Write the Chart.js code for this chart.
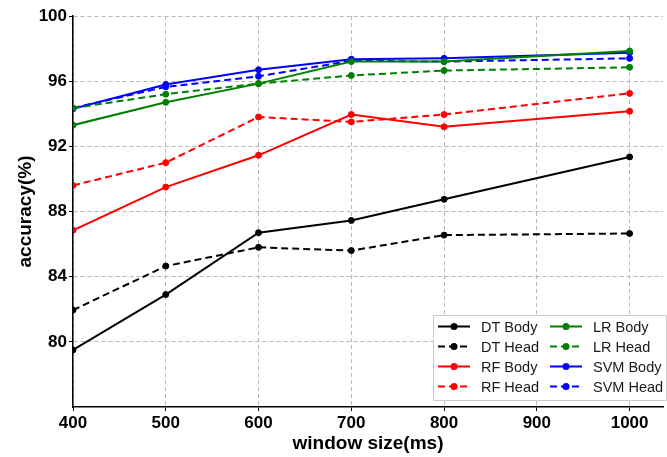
<!DOCTYPE html>
<html>
<head>
<meta charset="utf-8">
<script src="https://cdn.jsdelivr.net/npm/chart.js@4"></script>
<style>
  body { margin: 0; background: #fff; }
  canvas { display: block; }
</style>
</head>
<body>
<canvas id="accChart" width="667" height="457"></canvas>
<script>
// window sizes (ms)
var windowSizes = [400, 500, 600, 700, 800, 1000];

// accuracy (%) per model
var dtBody  = [79.5, 82.9, 86.7, 87.45, 88.75, 91.35];
var dtHead  = [81.95, 84.65, 85.8, 85.6, 86.55, 86.65];
var rfBody  = [86.85, 89.5, 91.45, 93.95, 93.2, 94.15];
var rfHead  = [89.6, 91.0, 93.8, 93.5, 93.95, 95.25];
var lrBody  = [93.3, 94.7, 95.85, 97.2, 97.2, 97.85];
var lrHead  = [94.35, 95.2, 95.85, 96.35, 96.65, 96.85];
var svmBody = [94.3, 95.8, 96.7, 97.35, 97.4, 97.75];
var svmHead = [94.35, 95.65, 96.3, 97.25, 97.2, 97.4];

var xTicks = [400, 500, 600, 700, 800, 900, 1000];
var yTicks = [80, 84, 88, 92, 96, 100];

var DASH = [7, 4];

function makeSeries(label, values, color, dashed) {
    return {
        label: label,
        data: windowSizes.map(function (x, i) { return { x: x, y: values[i] }; }),
        borderColor: color,
        backgroundColor: color,
        pointBackgroundColor: color,
        pointBorderColor: color,
        borderWidth: 2,
        borderDash: dashed ? DASH : [],
        pointRadius: 3,
        pointBorderWidth: 1,
        pointHoverRadius: 3,
        tension: 0
    };
}

var datasets = [
    makeSeries('DT Body', dtBody, '#000000', false),
    makeSeries('DT Head', dtHead, '#000000', true),
    makeSeries('RF Body', rfBody, '#ff0000', false),
    makeSeries('RF Head', rfHead, '#ff0000', true),
    makeSeries('LR Body', lrBody, '#008000', false),
    makeSeries('LR Head', lrHead, '#008000', true),
    makeSeries('SVM Body', svmBody, '#0000ff', false),
    makeSeries('SVM Head', svmHead, '#0000ff', true)
];

// legend box inside the plot, bottom right, two columns filled top-down
var boxLegend = {
    id: 'boxLegend',
    afterDraw: function (chart) {
        var ctx = chart.ctx;
        var area = chart.chartArea;
        var bx = chart.width - 234, by = area.bottom - 92;
        ctx.save();
        ctx.fillStyle = '#ffffff';
        ctx.strokeStyle = '#cccccc';
        ctx.lineWidth = 1;
        ctx.beginPath();
        ctx.rect(bx + 0.5, by + 0.5, 233, 85);
        ctx.fill();
        ctx.stroke();

        ctx.font = '14.5px "Liberation Sans", Arial, sans-serif';
        ctx.textBaseline = 'middle';
        chart.data.datasets.forEach(function (ds, i) {
            var col = Math.floor(i / 4), row = i % 4;
            var lx = bx + 5 + col * 112;
            var ly = by + 11.5 + row * 20;
            ctx.strokeStyle = ds.borderColor;
            ctx.lineWidth = 2;
            ctx.setLineDash(ds.borderDash);
            ctx.beginPath();
            ctx.moveTo(lx, ly);
            ctx.lineTo(lx + 32, ly);
            ctx.stroke();
            ctx.setLineDash([]);
            ctx.fillStyle = ds.borderColor;
            ctx.beginPath();
            ctx.arc(lx + 16, ly, 3.5, 0, Math.PI * 2);
            ctx.fill();
            ctx.fillStyle = '#1a1a1a';
            ctx.fillText(ds.label, lx + 43, ly + 1);
        });
        ctx.restore();
    }
};

var tickFont = { family: '"Liberation Sans", Arial, sans-serif', size: 17, weight: 'bold' };
var titleFont = { family: '"Liberation Sans", Arial, sans-serif', size: 19, weight: 'bold' };

function plainLabel(value) { return String(value); }

new Chart(document.getElementById('accChart'), {
    type: 'line',
    data: { datasets: datasets },
    options: {
        responsive: false,
        animation: false,
        layout: { padding: { top: 16, right: 0, left: 0, bottom: 0 } },
        plugins: {
            legend: { display: false },
            tooltip: { enabled: false }
        },
        scales: {
            x: {
                type: 'linear',
                min: 400,
                max: 1036,
                afterBuildTicks: function (scale) {
                    scale.ticks = xTicks.map(function (v) { return { value: v }; });
                },
                afterFit: function (scale) { scale.height = 50; },
                ticks: { font: tickFont, color: '#000', padding: 2, callback: plainLabel },
                grid: {
                    color: '#b8b8b8',
                    lineWidth: 1,
                    tickColor: '#000',
                    tickLength: 4,
                    tickBorderDash: []
                },
                border: { display: true, color: '#000', width: 1.5, dash: [4, 3] },
                title: {
                    display: true,
                    text: 'window size(ms)',
                    font: titleFont,
                    color: '#000',
                    padding: { top: 2, bottom: 2 }
                }
            },
            y: {
                min: 76,
                max: 100,
                afterBuildTicks: function (scale) {
                    scale.ticks = yTicks.map(function (v) { return { value: v }; });
                },
                afterFit: function (scale) { scale.width = 73; },
                ticks: { font: tickFont, color: '#000', padding: 2, callback: plainLabel },
                grid: {
                    color: '#b8b8b8',
                    lineWidth: 1,
                    tickColor: '#000',
                    tickLength: 4,
                    tickBorderDash: []
                },
                border: { display: true, color: '#000', width: 1.5, dash: [4, 3] },
                title: {
                    display: true,
                    text: 'accuracy(%)',
                    font: titleFont,
                    color: '#000',
                    padding: { top: 14, bottom: 4 }
                }
            }
        }
    },
    plugins: [boxLegend]
});
</script>
</body>
</html>
